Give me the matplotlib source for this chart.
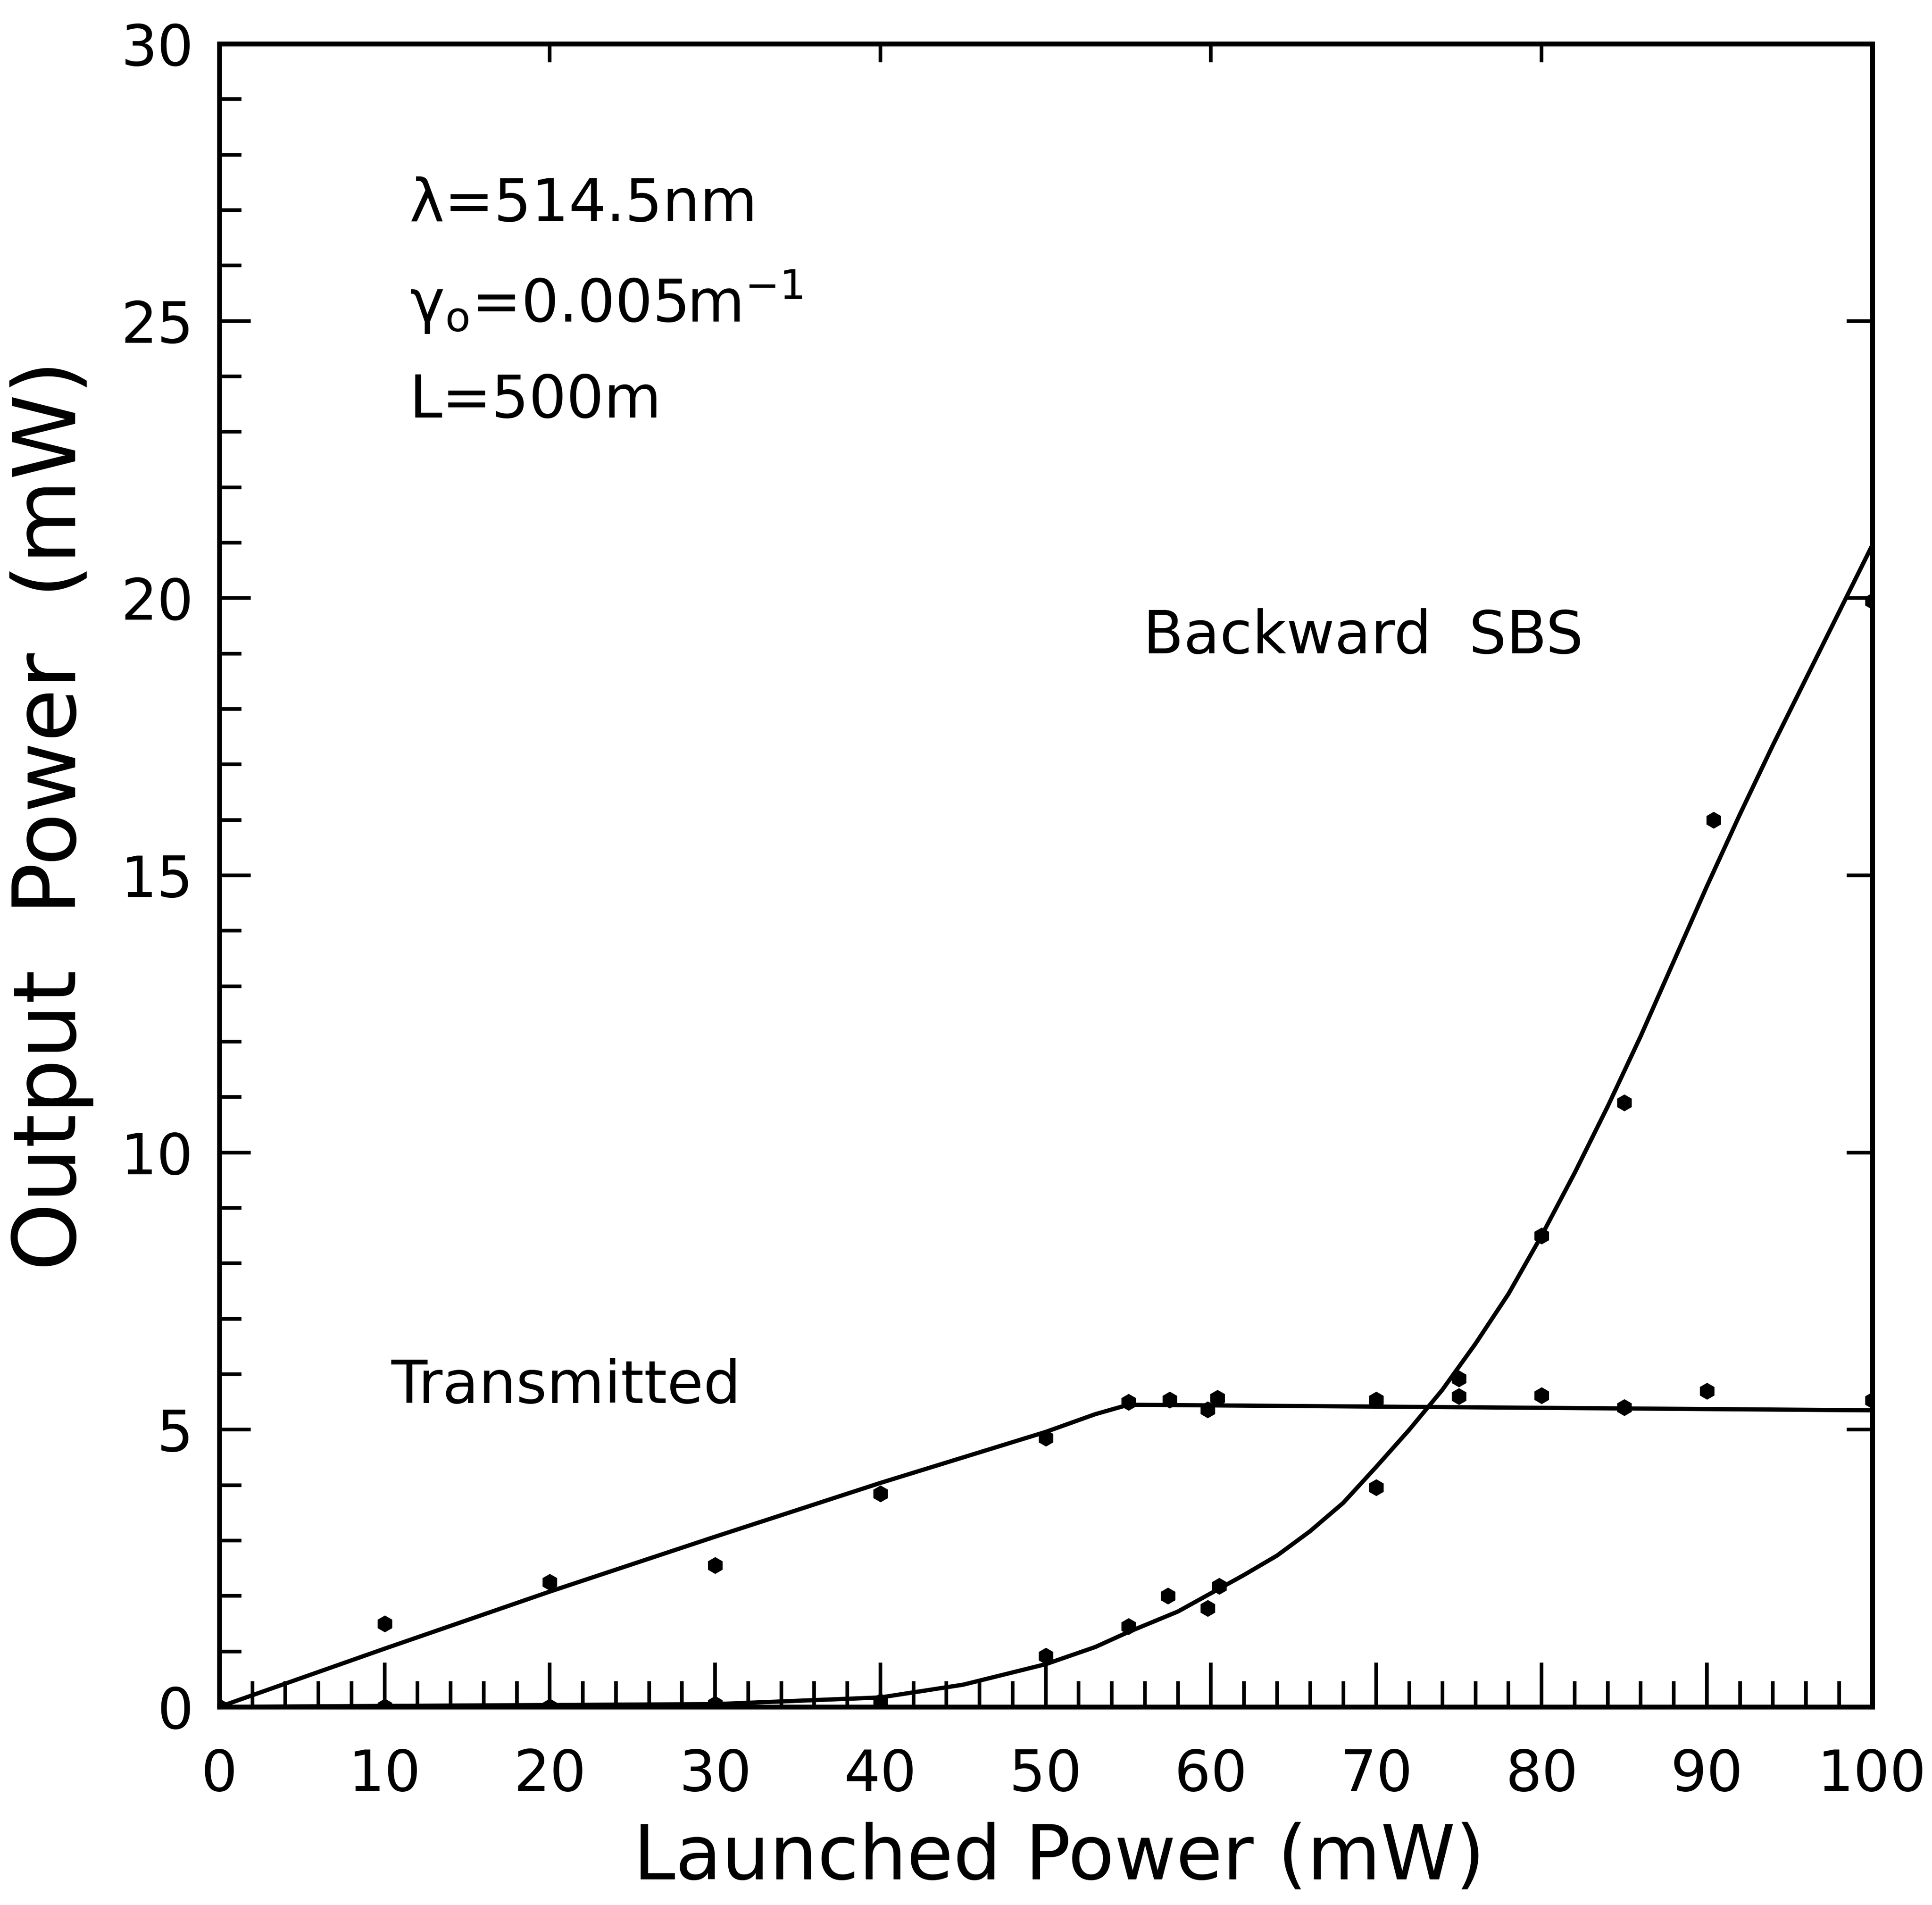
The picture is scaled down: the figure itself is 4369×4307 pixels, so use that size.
import numpy as np
import matplotlib
matplotlib.use("Agg")
import matplotlib.pyplot as plt
from matplotlib.ticker import MultipleLocator

plt.rcParams["font.family"] = ["DejaVu Sans"]
plt.rcParams["mathtext.default"] = "regular"

trans_x = [0, 10, 20, 30, 40, 50, 55, 57.5, 59.8, 60.4, 70, 75, 80, 85, 90, 100]
trans_y = [0, 1.5, 2.25, 2.55, 3.85, 4.85, 5.5, 5.54, 5.36, 5.57, 5.54, 5.6, 5.62, 5.4, 5.7, 5.53]

sbs_x = [0, 10, 20, 30, 40, 50, 55, 57.4, 59.8, 60.5, 70, 75, 80, 85, 90.4, 100]
sbs_y = [0, 0, 0, 0.05, 0.1, 0.92, 1.45, 2.0, 1.78, 2.18, 3.96, 5.92, 8.5, 10.9, 16.0, 19.95]

# fitted (theory) curves
trans_fit_x = [0, 10, 20, 30, 40, 50, 53, 55, 100]
trans_fit_y = [0, 1.05, 2.08, 3.07, 4.04, 4.96, 5.28, 5.45, 5.35]

sbs_fit_x = [0, 30, 40, 45, 50, 53, 55, 58, 60, 62, 64, 66, 68, 70, 72, 74, 76, 78,
             80, 82, 84, 86, 88, 90, 92, 94, 96, 98, 100]
sbs_fit_y = [0, 0.05, 0.17, 0.4, 0.77, 1.08, 1.35, 1.72, 2.05, 2.38, 2.73, 3.17, 3.68, 4.33,
             5.0, 5.72, 6.55, 7.45, 8.5, 9.63, 10.83, 12.1, 13.45, 14.8, 16.1, 17.35, 18.55,
             19.75, 20.95]

fig = plt.figure(figsize=(4369/300, 4307/300), dpi=300)
ax = fig.add_axes([0.1135, 0.104, 0.8555, 0.873])

ax.plot(trans_fit_x, trans_fit_y, "k-", lw=2.3)
ax.plot(sbs_fit_x, sbs_fit_y, "k-", lw=2.3)
ax.plot(trans_x, trans_y, "kh", ms=8)
ax.plot(sbs_x, sbs_y, "kh", ms=8)

ax.set_xlim(0, 100)
ax.set_ylim(0, 30)

for s in ax.spines.values():
    s.set_linewidth(2.6)

ax.xaxis.set_major_locator(MultipleLocator(10))
ax.xaxis.set_minor_locator(MultipleLocator(2))
ax.yaxis.set_major_locator(MultipleLocator(5))
ax.yaxis.set_minor_locator(MultipleLocator(1))
ax.tick_params(axis="x", which="major", direction="in", length=24, width=2, pad=22, labelsize=31)
ax.tick_params(axis="x", which="minor", direction="in", length=14, width=2)
ax.tick_params(axis="y", which="major", direction="in", length=17, width=2, pad=14, labelsize=31)
ax.tick_params(axis="y", which="minor", direction="in", length=12, width=2)

# ticks on the top and right frame
top = ax.secondary_xaxis("top")
top.set_xticks([20, 40, 60, 80])
top.tick_params(direction="in", length=10, width=2, labeltop=False)
top.spines["top"].set_linewidth(2.6)
right = ax.secondary_yaxis("right")
right.set_yticks([5, 10, 15, 20, 25])
right.tick_params(direction="in", length=14, width=2, labelright=False)
right.spines["right"].set_linewidth(2.6)

ax.set_xlabel("Launched Power (mW)", fontsize=41)
ax.set_ylabel("Output  Power  (mW)", fontsize=47)
ax.xaxis.set_label_coords(0.508, -0.069)
ax.yaxis.set_label_coords(-0.076, 0.536)

ax.text(11.5, 27.1, "\u03bb=514.5nm", fontsize=32, va="center", ha="left")
ax.text(11.5, 25.35, r"$\gamma_{o}$=0.005m$^{-1}$", fontsize=32, va="center", ha="left")
ax.text(11.5, 23.55, "L=500m", fontsize=32, va="center", ha="left")
ax.text(55.9, 19.3, "Backward  SBS", fontsize=32, va="center", ha="left")
ax.text(10.4, 5.78, "Transmitted", fontsize=32, va="center", ha="left")

fig.savefig("out.png", dpi=300)
